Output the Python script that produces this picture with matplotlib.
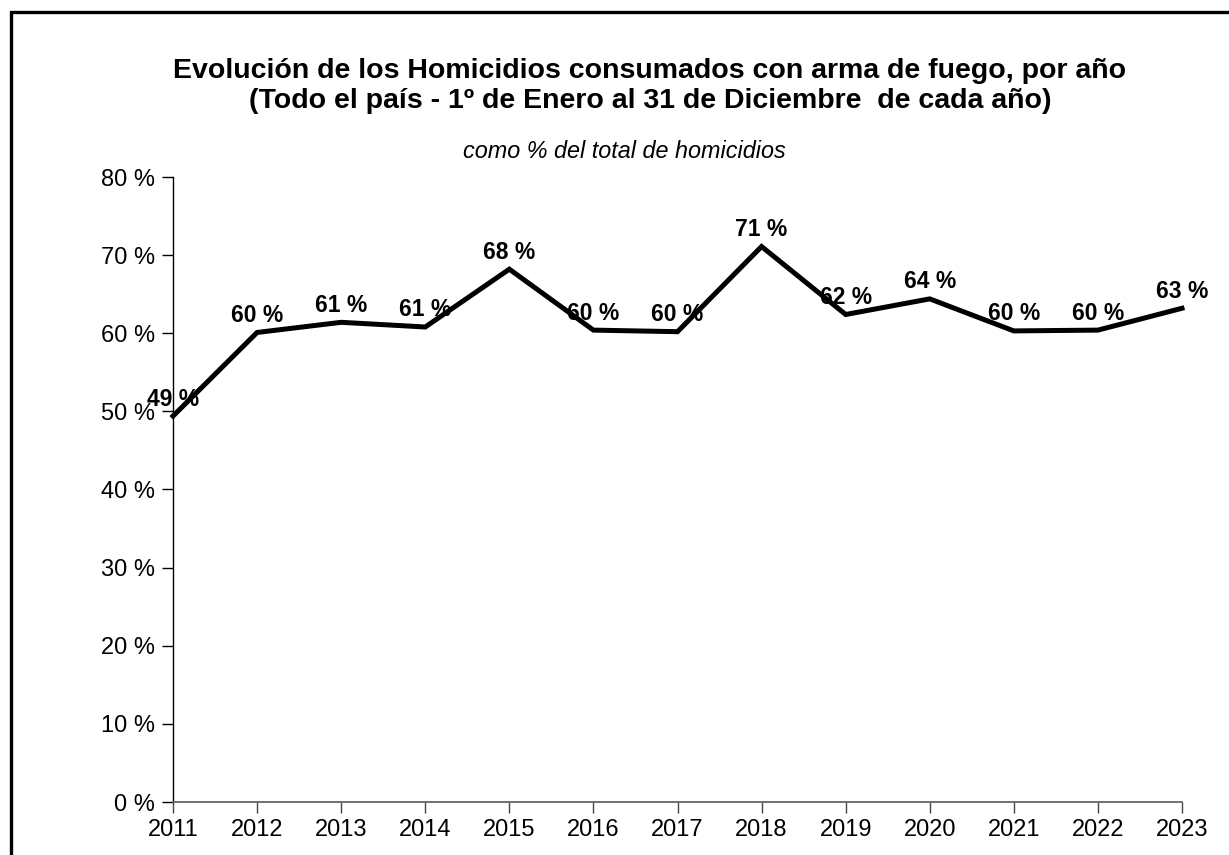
import matplotlib
matplotlib.use('Agg')
import matplotlib.pyplot as plt
from matplotlib.patches import Rectangle

plt.rcParams['font.family'] = ['Liberation Sans', 'DejaVu Sans']

years = [2011, 2012, 2013, 2014, 2015, 2016, 2017, 2018, 2019, 2020, 2021, 2022, 2023]
pct = [49.4, 60.1, 61.4, 60.8, 68.2, 60.4, 60.2, 71.1, 62.4, 64.4, 60.3, 60.4, 63.2]
yticks = [0, 10, 20, 30, 40, 50, 60, 70, 80]

title1 = 'Evolución de los Homicidios consumados con arma de fuego, por año'
title2 = '(Todo el país - 1º de Enero al 31 de Diciembre  de cada año)'
subtitle = 'como % del total de homicidios'

fig = plt.figure(figsize=(12.29, 8.55), dpi=100)
ax = fig.add_axes([173 / 1229, 53 / 855, (1182 - 173) / 1229, (802 - 177) / 855])

ax.plot(years, pct, color='black', lw=3.6, solid_joinstyle='miter', clip_on=False)
for x, v in zip(years, pct):
    ax.annotate('%.0f %%' % v, (x, v), xytext=(0, 17), textcoords='offset pixels',
                ha='center', va='center', fontsize=16.5, fontweight='bold', annotation_clip=False)

ax.set_xlim(2011, 2023)
ax.set_ylim(0, 80)
ax.set_xticks(years)
ax.set_xticklabels([str(y) for y in years])
ax.set_yticks(yticks)
ax.set_yticklabels(['%d %%' % t for t in yticks])
ax.tick_params(axis='both', labelsize=17, length=8, width=1, direction='out')
ax.tick_params(axis='x', pad=4, colors='#444444', labelcolor='black')
ax.tick_params(axis='y', pad=5)
for s in ['top', 'right']:
    ax.spines[s].set_visible(False)
ax.spines['left'].set_linewidth(1)
ax.spines['bottom'].set_color('#666666')
ax.spines['bottom'].set_linewidth(1.3)

fig.text(650 / 1229, 1 - 71 / 855, title1, ha='center', va='center', fontsize=20.5,
         fontweight='bold')
fig.text(650 / 1229, 1 - 101 / 855, title2, ha='center', va='center', fontsize=20.5,
         fontweight='bold')
fig.text(624 / 1229, 1 - 152 / 855, subtitle, ha='center', va='center', fontsize=16.8,
         style='italic')

fig.patches.append(Rectangle((11 / 1229, -0.05), 1.2, 1 - 12 / 855 + 0.05,
                             transform=fig.transFigure, fill=False, ec='black', lw=2.4))

fig.savefig('out.png', dpi=100)
